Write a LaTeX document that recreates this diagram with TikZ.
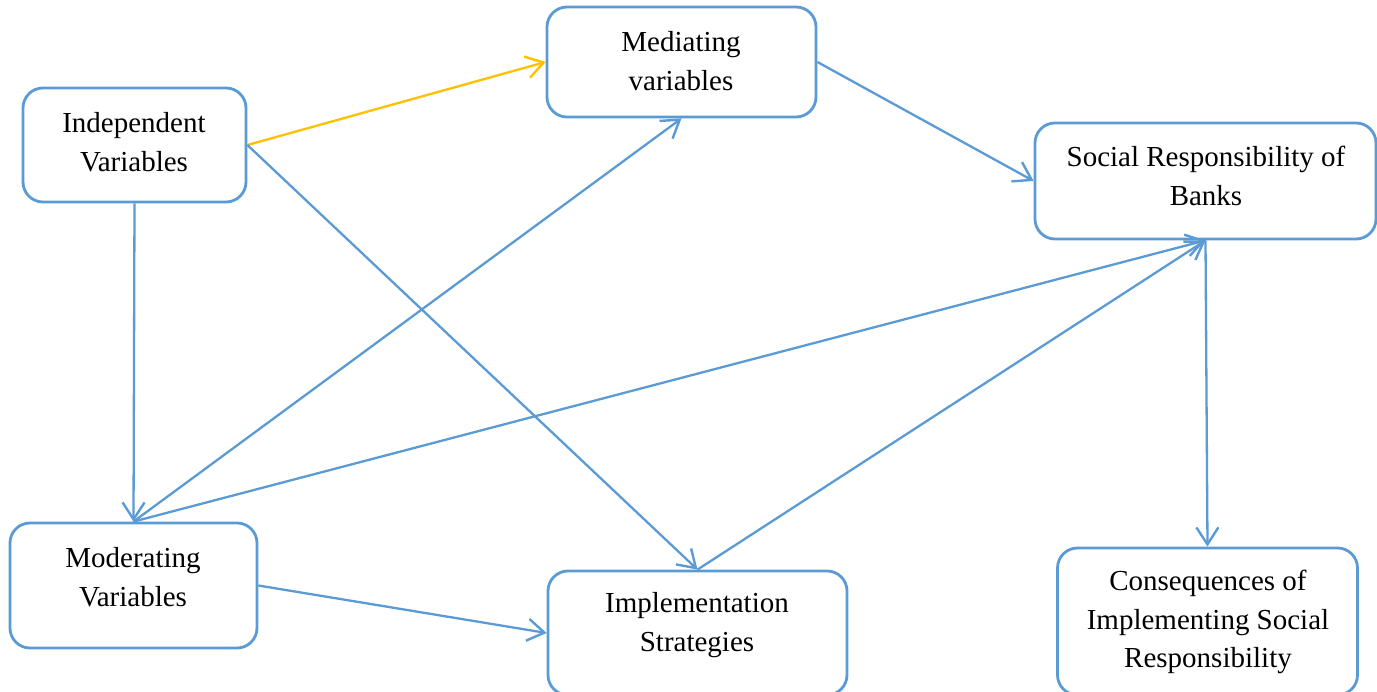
\documentclass[tikz,border=0pt]{standalone}
\usepackage{fontspec}
\setmainfont{Liberation Serif}
\usetikzlibrary{arrows.meta}
\definecolor{boxblue}{HTML}{5B9BD5}
\definecolor{arrorange}{HTML}{FFC000}
\begin{document}
\begin{tikzpicture}[x=1pt,y=-1pt,
  box/.style={draw=boxblue, line width=2.8pt, rounded corners=20pt, fill=white, inner sep=0pt},
  txt/.style={align=center, inner sep=0pt, font=\fontsize{29}{38.5}\selectfont},
  conn/.style={draw=boxblue, line width=2.3pt, -{Straight Barb[length=17pt,width=22pt,line width=2.4pt]}},
  oconn/.style={conn, draw=arrorange}
]
\fill[white] (0,0) rectangle (1377,692);
\useasboundingbox (0,0) rectangle (1377,692);

\node[box, minimum width=223pt, minimum height=114pt] (ind) at (134.5,145) {};
\node[txt] (indt) at (134,142) {Independent\\Variables};

\node[box, minimum width=269pt, minimum height=110pt] (med) at (681.5,62) {};
\node[txt] (medt) at (681,61) {Mediating\\variables};

\node[box, minimum width=341pt, minimum height=116pt] (banks) at (1205.5,181) {};
\node[txt] (bankst) at (1206,176) {Social Responsibility of\\Banks};

\node[box, minimum width=247pt, minimum height=125pt] (mod) at (133.5,585.5) {};
\node[txt] (modt) at (133,577) {Moderating\\Variables};

\node[box, minimum width=299pt, minimum height=124pt] (impl) at (697.5,633) {};
\node[txt] (implt) at (697,625) {Implementation\\Strategies};

\node[box, minimum width=300pt, minimum height=147pt] (cons) at (1207.5,621.5) {};
\node[txt] (const) at (1208,622) {Consequences of\\Implementing Social\\Responsibility};

\draw[oconn] (ind.east) -- (med.west);
\draw[conn] (ind.east) -- (impl.north);
\draw[conn] (ind.south) -- (mod.north);
\draw[conn] (mod.north) -- (med.south);
\draw[conn] (mod.north) -- (banks.south);
\draw[conn] (impl.north) -- (banks.south);
\draw[conn] (mod.east) -- (impl.west);
\draw[conn] (med.east) -- (banks.west);
\draw[conn] (banks.south) -- (cons.north);
\end{tikzpicture}
\end{document}
